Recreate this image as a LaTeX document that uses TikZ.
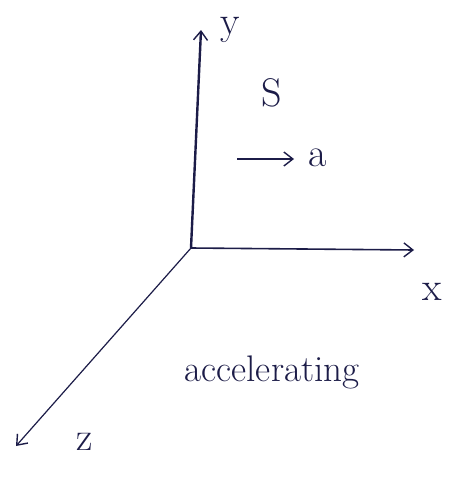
\documentclass[tikz,border=0pt]{standalone}
\usepackage{fontspec}
\usetikzlibrary{arrows.meta}
\definecolor{ink}{RGB}{28,28,72}
\begin{document}
\begin{tikzpicture}[x=1pt,y=-1pt,
  axis/.style={draw=ink,line width=1.6pt,-{Straight Barb[length=9pt,width=14pt,line width=1.4pt]}},
  lbl/.style={text=ink,font=\fontsize{40}{42}\selectfont,inner sep=0pt}]
\useasboundingbox[fill=white] (0,0) rectangle (449,479);
\coordinate (O) at (191,248);
\coordinate (Y) at (201,30);
\coordinate (X) at (414,250);
\coordinate (Z) at (16,446);
\draw[axis,line width=2.4pt] (O) -- (Y);
\draw[axis] (O) -- (X);
\draw[axis,line width=1.2pt] (O) -- (Z);
\node[lbl] (ly) at (230,30) {y};
\node[lbl] (lx) at (432,292) {x};
\node[lbl] (lz) at (85,442) {z};
\node[lbl] (ls) at (272,93) {S};
\coordinate (a0) at (237,159);
\coordinate (a1) at (294,159);
\draw[axis,line width=1.4pt] (a0) -- (a1);
\node[lbl] (la) at (318,158) {a};
\node[lbl,font=\fontsize{37}{39}\selectfont] (acc) at (272,372) {accelerating};
\end{tikzpicture}
\end{document}
